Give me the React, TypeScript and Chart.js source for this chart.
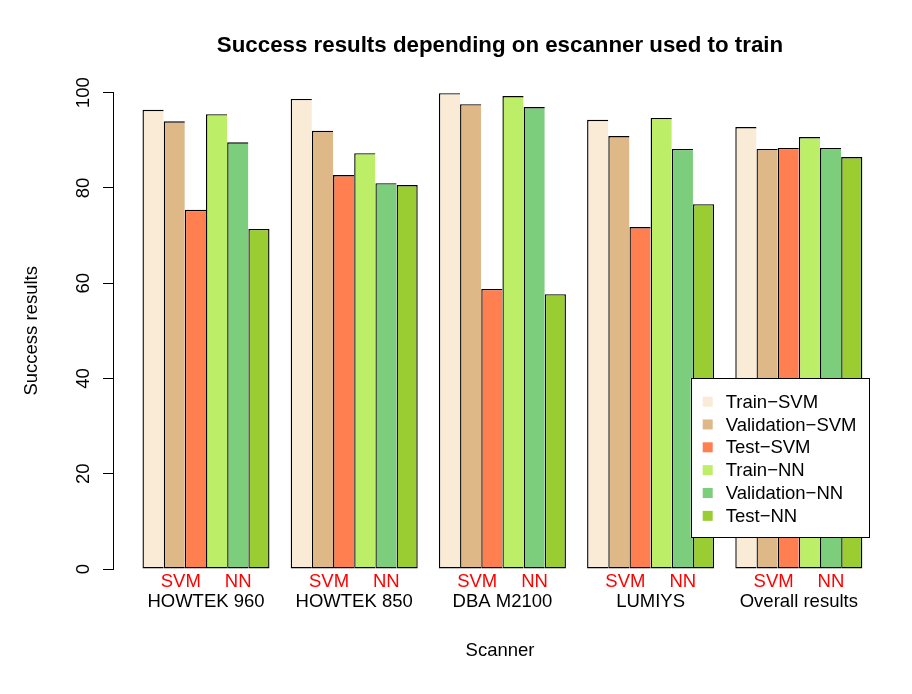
import React, { useEffect, useRef } from 'react';
import { Chart, registerables } from 'chart.js';

Chart.register(...registerables);

// ---------- data ----------
const groups = ['HOWTEK 960', 'HOWTEK 850', 'DBA M2100', 'LUMIYS', 'Overall results'];
const seriesNames = ['Train-SVM', 'Validation-SVM', 'Test-SVM', 'Train-NN', 'Validation-NN', 'Test-NN'];
const trainSVM = [96.4, 98.7, 99.9, 94.3, 92.8];
const validationSVM = [94.0, 92.0, 97.6, 90.9, 88.2];
const testSVM = [75.4, 82.7, 58.8, 71.8, 88.4];
const trainNN = [95.5, 87.3, 99.3, 94.7, 90.7];
const validationNN = [89.6, 81.0, 97.0, 88.2, 88.4];
const testNN = [71.4, 80.6, 57.7, 76.6, 86.5];
const methodLabels = ['SVM', 'NN'];
const yTicks = [0, 20, 40, 60, 80, 100];
const TITLE = 'Success results depending on escanner used to train';
const X_TITLE = 'Scanner';
const Y_TITLE = 'Success results';

const seriesValues = [trainSVM, validationSVM, testSVM, trainNN, validationNN, testNN];
const colors = ['#FAEBD7', '#DEB887', '#FF7F50', '#BCEE68', '#7CCD7C', '#9ACD32'];

const FONT_FAMILY = '"Liberation Sans", Arial, Helvetica, sans-serif';
const baseFont = { family: FONT_FAMILY, size: 18.5, lineHeight: 1 };

const titlePlugin = {
  id: 'rTitle',
  afterDraw(chart: any) {
    const { ctx, chartArea } = chart;
    ctx.save();
    ctx.font = `bold 22.3px ${FONT_FAMILY}`;
    ctx.fillStyle = '#000';
    ctx.textAlign = 'center';
    ctx.textBaseline = 'middle';
    ctx.fillText(TITLE, (chartArea.left + chartArea.right) / 2, 38);
    ctx.restore();
  },
};

const legendPlugin = {
  id: 'rLegend',
  afterDraw(chart: any) {
    const { ctx } = chart;
    const left = 682.7;
    const top = 370.3;
    const right = 860.7;
    const bottom = 529.3;
    ctx.save();
    ctx.fillStyle = '#fff';
    ctx.fillRect(left, top, right - left, bottom - top);
    ctx.strokeStyle = '#000';
    ctx.lineWidth = 1;
    ctx.strokeRect(Math.round(left) + 0.5, Math.round(top) + 0.5, Math.round(right - left), Math.round(bottom - top));
    ctx.font = `18.5px ${FONT_FAMILY}`;
    ctx.textAlign = 'left';
    ctx.textBaseline = 'middle';
    chart.data.datasets.forEach((ds: any, i: number) => {
      const cy = 393.6 + i * 22.85;
      ctx.fillStyle = ds.backgroundColor;
      ctx.fillRect(694.7, cy - 5, 10, 10);
      ctx.fillStyle = '#000';
      ctx.fillText(String(ds.label).replace('-', '\u2212'), 717.7, cy + 1);
    });
    ctx.restore();
  },
};

export default function App() {
  const ref = useRef<HTMLCanvasElement | null>(null);

  useEffect(() => {
    if (!ref.current) return;
    const last = seriesNames.length - 1;
    const bw = 1.4;
    const chart = new Chart(ref.current, {
      type: 'bar',
      data: {
        datasets: seriesNames.map((name, si) => ({
          label: name,
          data: seriesValues[si].map((v, gi) => ({ x: gi, y: v })),
          backgroundColor: colors[si],
          borderColor: '#000',
          borderWidth: { top: bw, left: bw, bottom: bw, right: si === last ? bw : 0 },
          borderSkipped: false,
          inflateAmount: 0,
          categoryPercentage: 6 / 7,
          barPercentage: 1,
          xAxisID: 'x',
          yAxisID: 'y',
        })),
      },
      options: {
        responsive: false,
        animation: false,
        events: [],
        color: '#000',
        layout: { padding: { top: 84.7, right: 17, bottom: 0, left: 0 } },
        plugins: {
          legend: { display: false },
          title: { display: false },
          tooltip: { enabled: false },
        },
        scales: {
          x: {
            type: 'linear',
            axis: 'x',
            position: 'bottom',
            weight: 1,
            offset: false,
            bounds: 'data',
            min: -0.6275,
            max: 4.595,
            grid: { display: false, drawTicks: false },
            border: { display: false },
            afterBuildTicks: (scale: any) => {
              scale.ticks = groups.map((_, i) => ({ value: i }));
            },
            afterFit: (scale: any) => {
              scale.height = 97;
            },
            ticks: {
              autoSkip: false,
              maxRotation: 0,
              minRotation: 0,
              padding: 3.75,
              color: '#000',
              font: baseFont,
              callback: (_v: any, idx: number) => groups[idx],
            },
            title: {
              display: true,
              text: X_TITLE,
              color: '#000',
              font: { family: FONT_FAMILY, size: 18.5, lineHeight: 1.2 },
              padding: { top: 0, bottom: 24.2 },
            },
          },
          xs: {
            type: 'linear',
            axis: 'x',
            position: 'bottom',
            weight: 0,
            offset: false,
            bounds: 'data',
            min: -0.6275,
            max: 4.595,
            grid: { display: false, drawTicks: false },
            border: { display: false },
            afterBuildTicks: (scale: any) => {
              scale.ticks = groups.flatMap((_, i) => [{ value: i - 0.17 }, { value: i + 0.217 }]);
            },
            afterFit: (scale: any) => {
              scale.height = 20;
            },
            ticks: {
              autoSkip: false,
              maxRotation: 0,
              minRotation: 0,
              padding: 3.75,
              color: '#FF0000',
              font: baseFont,
              callback: (_v: any, idx: number) => methodLabels[idx % 2],
            },
          },
          y: {
            type: 'linear',
            position: 'left',
            min: 0,
            max: 100,
            bounds: 'data',
            afterBuildTicks: (scale: any) => {
              scale.ticks = yTicks.map((v) => ({ value: v }));
            },
            afterFit: (scale: any) => {
              scale.width = 105;
            },
            grid: {
              display: true,
              drawOnChartArea: false,
              drawTicks: true,
              tickLength: 10,
              color: '#000',
              lineWidth: 1,
            },
            border: { display: true, color: '#000', width: 1 },
            ticks: {
              minRotation: 90,
              maxRotation: 90,
              crossAlign: 'center',
              padding: 3.2,
              color: '#000',
              font: baseFont,
              callback: (v: any) => String(v),
            },
            title: {
              display: true,
              text: Y_TITLE,
              color: '#000',
              font: { family: FONT_FAMILY, size: 18.5, lineHeight: 1.2 },
              padding: { top: 12.9, bottom: 0 },
            },
          },
        },
      },
      plugins: [titlePlugin, legendPlugin],
    } as any);
    return () => chart.destroy();
  }, []);

  return (
    <canvas ref={ref} width={896} height={678} style={{ display: 'block', width: 896, height: 678 }} />
  );
}
